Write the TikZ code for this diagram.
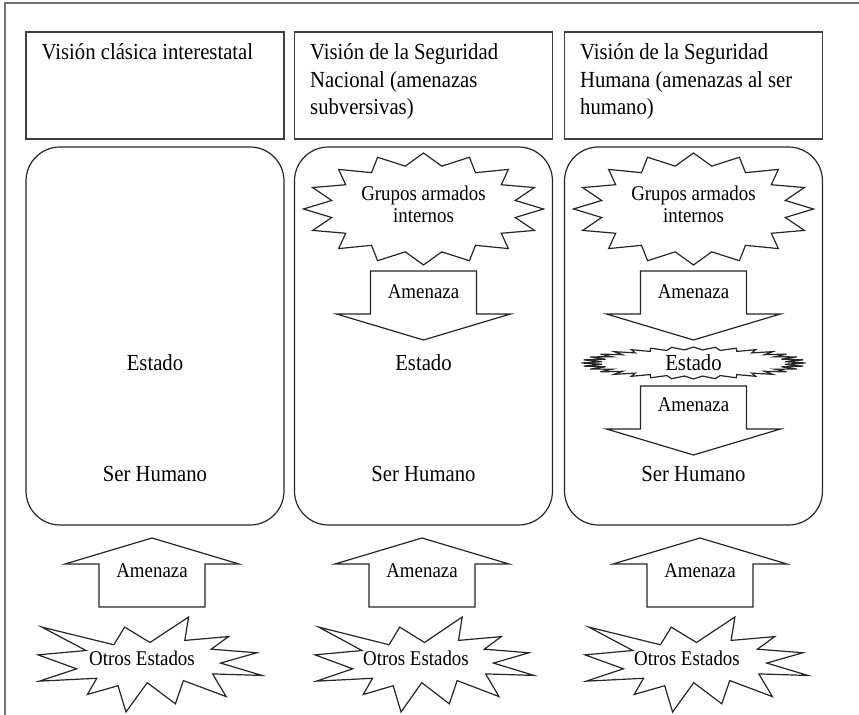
\documentclass[tikz,border=0pt]{standalone}
\usepackage{fontspec}
\setmainfont{Liberation Serif}[FakeStretch=0.9]
\usetikzlibrary{calc}

% explosion outline, #1 top left corner, #2 width, #3 height
\newcommand{\explosion}[3]{%
	\draw[shape line, shift={(#1)}, xscale=#2/100, yscale=#3/100]
		(50,26.85) -- (67.23,0) -- (65.53,24.65) -- (85.09,20.63) -- (77.32,33.87)
		-- (97.67,37.67) -- (81.51,48.50) -- (100,61.53) -- (77.95,59.92) -- (84.00,83.77)
		-- (64.91,66.93) -- (61.33,91.38) -- (48.76,69.14) -- (39.28,100) -- (35.72,72.35)
		-- (22.05,81.56) -- (26.24,64.52) -- (0.63,67.53) -- (17.23,54.51) -- (0,39.88)
		-- (21.42,35.26) -- (1.71,10.63) -- (33.85,29.26) -- (38.67,10.63) -- cycle;
}
% seal with many points, #1 centre, #2/#3 radii, #4 points, #5 inner ratio
\newcommand{\sealstar}[5]{%
	\draw[shape line, shift={(#1)}] plot[domain=0:2*#4-1, samples=2*#4, variable=\k]
		({(mod(\k,2)<0.5 ? 1 : #5)*#2*cos(90+\k*180/#4)},
		 {(mod(\k,2)<0.5 ? 1 : #5)*#3*sin(90+\k*180/#4)}) -- cycle;
}
% block arrow from its tail, #2 = 1 down, -1 up
\newcommand{\blockarrow}[2]{%
	\draw[shape line, shift={(#1)}, yscale=#2]
		(-53,0) -- (53,0) -- (53,43) -- (87,43) -- (0,69) -- (-87,43) -- (-53,43) -- cycle;
}

\begin{document}
\begin{tikzpicture}[
		x=0.5pt, y=-0.5pt,
		shape line/.style={draw=black!85, line width=0.6pt, fill=white},
		headbox/.style={draw=black!75, line width=0.7pt, minimum width=129pt, minimum height=53.5pt, inner sep=0pt},
		panel/.style={draw=black!85, line width=0.6pt, rounded corners=17pt, minimum width=129pt, minimum height=189pt, inner sep=0pt},
		headtext/.style={anchor=north west, inner sep=0pt, align=left, font=\fontsize{11.5}{13.75}\selectfont},
		label/.style={inner sep=0pt, align=center, font=\fontsize{11.5}{12}\selectfont},
		small/.style={inner sep=0pt, align=center, font=\fontsize{10.5}{11}\selectfont},
	]
		\useasboundingbox (0,0) rectangle (859,715);
		\draw[black!55, line width=0.6pt] (5,715) -- (5,3) -- (859,3);
		
		% headings
		\node[headbox] (h1) at (155,85.5) {};
		\node[headbox] (h2) at (423.5,85.5) {};
		\node[headbox] (h3) at (693.5,85.5) {};
		\node[headtext] (v1) at ($(h1.north west)+(16,12)$) {Visión clásica interestatal};
		\node[headtext] (v2) at ($(h2.north west)+(16,12)$) {Visión de la Seguridad\\Nacional (amenazas\\subversivas)};
		\node[headtext] (v3) at ($(h3.north west)+(16,12)$) {Visión de la Seguridad\\Humana (amenazas al ser\\humano)};
		
		% panels
		\node[panel] (p1) at (155,336) {};
		\node[panel] (p2) at (423.5,336) {};
		\node[panel] (p3) at (693.5,336) {};
		
		\coordinate (g2) at (423.5,209);
		\coordinate (g3) at (693.5,209);
		\coordinate (d2) at (423.5,271);
		\coordinate (d3) at (693.5,271);
		\coordinate (e3) at (693.5,363);
		\coordinate (f3) at (693.5,386);
		\sealstar{g2}{120}{56}{16}{0.78}
		\sealstar{g3}{120}{56}{16}{0.78}
		\blockarrow{d2}{1}
		\blockarrow{d3}{1}
		\sealstar{e3}{112}{16}{32}{0.82}
		\blockarrow{f3}{1}
		
		\node[label] (est1) at (155,363) {Estado};
		\node[label] (ser1) at (155,474) {Ser Humano};
		\node[small] (grp2) at (423.5,204) {Grupos armados\\internos};
		\node[small] (am2) at (423.5,292) {Amenaza};
		\node[label] (est2) at (423.5,363) {Estado};
		\node[label] (ser2) at (423.5,474) {Ser Humano};
		\node[small] (grp3) at (693.5,204) {Grupos armados\\internos};
		\node[small] (am3) at (693.5,292) {Amenaza};
		\node[label] (est3) at (e3) {Estado};
		\node[small] (am3b) at (693.5,405) {Amenaza};
		\node[label] (ser3) at (693.5,474) {Ser Humano};
		
		% outside threats
		\foreach \i/\ax/\sx/\sw/\tx in {1/152/38/224/142, 2/422/315/219/416, 3/700/585/223/687} {
			\coordinate (u\i) at (\ax,607);
			\blockarrow{u\i}{-1}
			\node[small] (amu\i) at (\ax,571) {Amenaza};
			\explosion{\sx,617}{\sw}{95}
			\node[small] (otr\i) at (\tx,658) {Otros Estados};
		}
	\end{tikzpicture}
\end{document}
